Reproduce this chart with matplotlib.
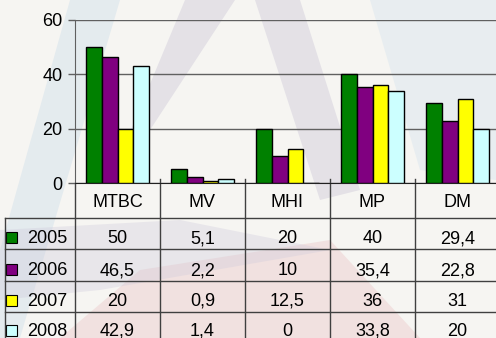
import matplotlib.pyplot as plt
import numpy as np
from matplotlib.patches import Polygon, Rectangle

plt.rcParams['font.family'] = ['Liberation Sans', 'DejaVu Sans']

categories = ['MTBC', 'MV', 'MHI', 'MP', 'DM']
years = ['2005', '2006', '2007', '2008']
values_2005 = [50, 5.1, 20, 40, 29.4]
values_2006 = [46.5, 2.2, 10, 35.4, 22.8]
values_2007 = [20, 0.9, 12.5, 36, 31]
values_2008 = [42.9, 1.4, 0, 33.8, 20]
series = [values_2005, values_2006, values_2007, values_2008]
colors = ['#008000', '#800080', '#FFFF00', '#CCFFFF']

W, H = 496, 338
fig = plt.figure(figsize=(W / 100, H / 100), dpi=100)
fig.patch.set_facecolor('#F6F5F2')

# background layer in pixel coords (watermark + table)
bg = fig.add_axes([0, 0, 1, 1])
bg.set_xlim(0, W)
bg.set_ylim(H, 0)
bg.axis('off')

# faint watermark shapes
bg.add_patch(Polygon([(0, 250), (0, 338), (20, 338), (120, 0), (70, 0)],
                     closed=True, color='#C9DCEA', alpha=0.4, lw=0))
bg.add_patch(Polygon([(185, 0), (235, 0), (150, 130), (110, 180)],
                     closed=True, color='#C9C3D6', alpha=0.4, lw=0))
bg.add_patch(Polygon([(255, 0), (300, 0), (360, 190), (320, 200)],
                     closed=True, color='#C9C3D6', alpha=0.4, lw=0))
bg.add_patch(Polygon([(370, 0), (496, 0), (496, 180), (420, 170)],
                     closed=True, color='#D3E3EE', alpha=0.4, lw=0))
bg.add_patch(Polygon([(60, 338), (140, 270), (330, 240), (420, 338)],
                     closed=True, color='#EBC5C5', alpha=0.4, lw=0))
bg.add_patch(Polygon([(0, 230), (180, 220), (330, 250), (100, 290), (0, 300)],
                     closed=True, color='#CFCBDC', alpha=0.35, lw=0))

# chart axes
left, right, top, zero = 75, 500, 20, 183
ax = fig.add_axes([left / W, (H - zero) / H, (right - left) / W, (zero - top) / H])
ax.set_facecolor('none')
x = np.arange(len(categories))
width = 0.183
for i, vals in enumerate(series):
    ax.bar(x + (i - 1.5) * width, vals, width, color=colors[i],
           edgecolor='black', linewidth=1, zorder=3)
ax.set_xlim(-0.5, len(categories) - 0.5)
ax.set_ylim(0, 60)
ax.set_yticks([0, 20, 40, 60])
ax.set_xticks([])
ax.yaxis.grid(True, color='#606060', linewidth=1)
ax.tick_params(axis='y', labelsize=13, length=5, width=1, color='#606060', pad=4)
for s in ['top', 'right']:
    ax.spines[s].set_visible(False)
ax.spines['left'].set_color('#606060')
ax.spines['bottom'].set_color('#202020')

# data table
col_w = (right - left) / len(categories)
rows_y = [183, 218, 249, 281, 312, 342]
lc = '#404040'
for j in range(len(categories) + 1):
    xx = left + j * col_w
    bg.plot([xx, xx], [zero - 4 if j > 0 else zero, 345], color=lc, lw=1)
bg.plot([5, 5], [rows_y[1], 345], color=lc, lw=1)
for yy in rows_y[1:5]:
    bg.plot([5, right], [yy, yy], color=lc, lw=1)
for j, cat in enumerate(categories):
    bg.text(left + (j + 0.5) * col_w, 207, cat,
            ha='center', va='baseline', fontsize=13)
for i, (yr, vals) in enumerate(zip(years, series)):
    base = rows_y[i + 2] - 6
    bg.add_patch(Rectangle((6, base - 11), 11, 11, facecolor=colors[i],
                           edgecolor='black', lw=0.8))
    bg.text(27, base, yr, ha='left', va='baseline', fontsize=13)
    for j, v in enumerate(vals):
        bg.text(left + (j + 0.5) * col_w, base, f'{v:g}'.replace('.', ','),
                ha='center', va='baseline', fontsize=13)

fig.savefig('out.png', dpi=100, facecolor=fig.get_facecolor())
